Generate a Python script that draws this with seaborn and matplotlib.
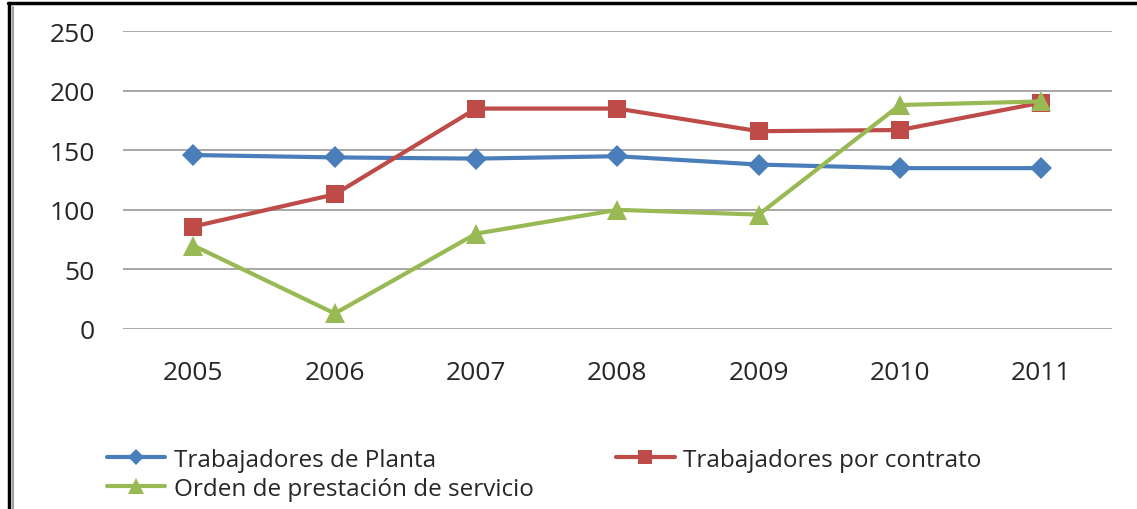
import pandas as pd
import seaborn as sb
from matplotlib import pyplot as plt
from matplotlib.lines import Line2D

years = [2005, 2006, 2007, 2008, 2009, 2010, 2011]
planta = [146, 144, 143, 145, 138, 135, 135]
contrato = [86, 113, 185, 185, 166, 167, 190]
servicio = [70, 13, 80, 100, 96, 188, 191]

names = ["Trabajadores de Planta", "Trabajadores por contrato",
         "Orden de prestación de servicio"]
colors = ["#4A7EBB", "#BE4B48", "#98B954"]
markers = ["D", "s", "^"]
msizes = [11, 13, 15]

sb.set_style("white")
plt.rcParams['font.family'] = ['Open Sans', 'DejaVu Sans']

fig = plt.figure(figsize=(11.37, 5.10), dpi=100)
ax = fig.add_axes([0.108, 0.353, 0.870, 0.584])

for name, vals, c, m, ms in zip(names, [planta, contrato, servicio], colors, markers, msizes):
    df = pd.DataFrame({"year": years, "value": vals})
    sb.lineplot(data=df, x="year", y="value", ax=ax, color=c, marker=m,
                markersize=ms, markeredgewidth=0, linewidth=3, label=name)

ax.set_xlim(2004.5, 2011.5)
ax.set_ylim(0, 250)
ax.set_yticks(range(0, 251, 50))
ax.set_xticks(years)
ax.grid(axis='y', color='#A0A0A0', linewidth=1.3)
ax.set_axisbelow(True)
for s in ax.spines.values():
    s.set_visible(False)
ax.tick_params(axis='y', length=0, pad=20, labelsize=19)
ax.tick_params(axis='x', length=0, pad=22, labelsize=19)
ax.set_xlabel("")
ax.set_ylabel("")

handles, labels = ax.get_legend_handles_labels()
ax.legend([handles[0], handles[2], handles[1]], [labels[0], labels[2], labels[1]],
          ncol=2, loc='upper left', bbox_to_anchor=(0.094, 0.12),
          bbox_transform=fig.transFigure, frameon=False, fontsize=17.5,
          handlelength=2.4, handletextpad=0.35, columnspacing=3.4,
          labelspacing=0.2, borderaxespad=0, borderpad=0, markerscale=0.75)

# outer frame
fig.add_artist(Line2D([0.007, 1.0], [0.992, 0.992], color='black', linewidth=2.5,
                      transform=fig.transFigure))
fig.add_artist(Line2D([0.008, 0.008], [0.0, 0.992], color='black', linewidth=2.5,
                      transform=fig.transFigure))
fig.add_artist(Line2D([0.0115, 0.0115], [0.0, 0.985], color='#A0A0A0', linewidth=1.5,
                      transform=fig.transFigure))

plt.savefig("out.png", dpi=100)
